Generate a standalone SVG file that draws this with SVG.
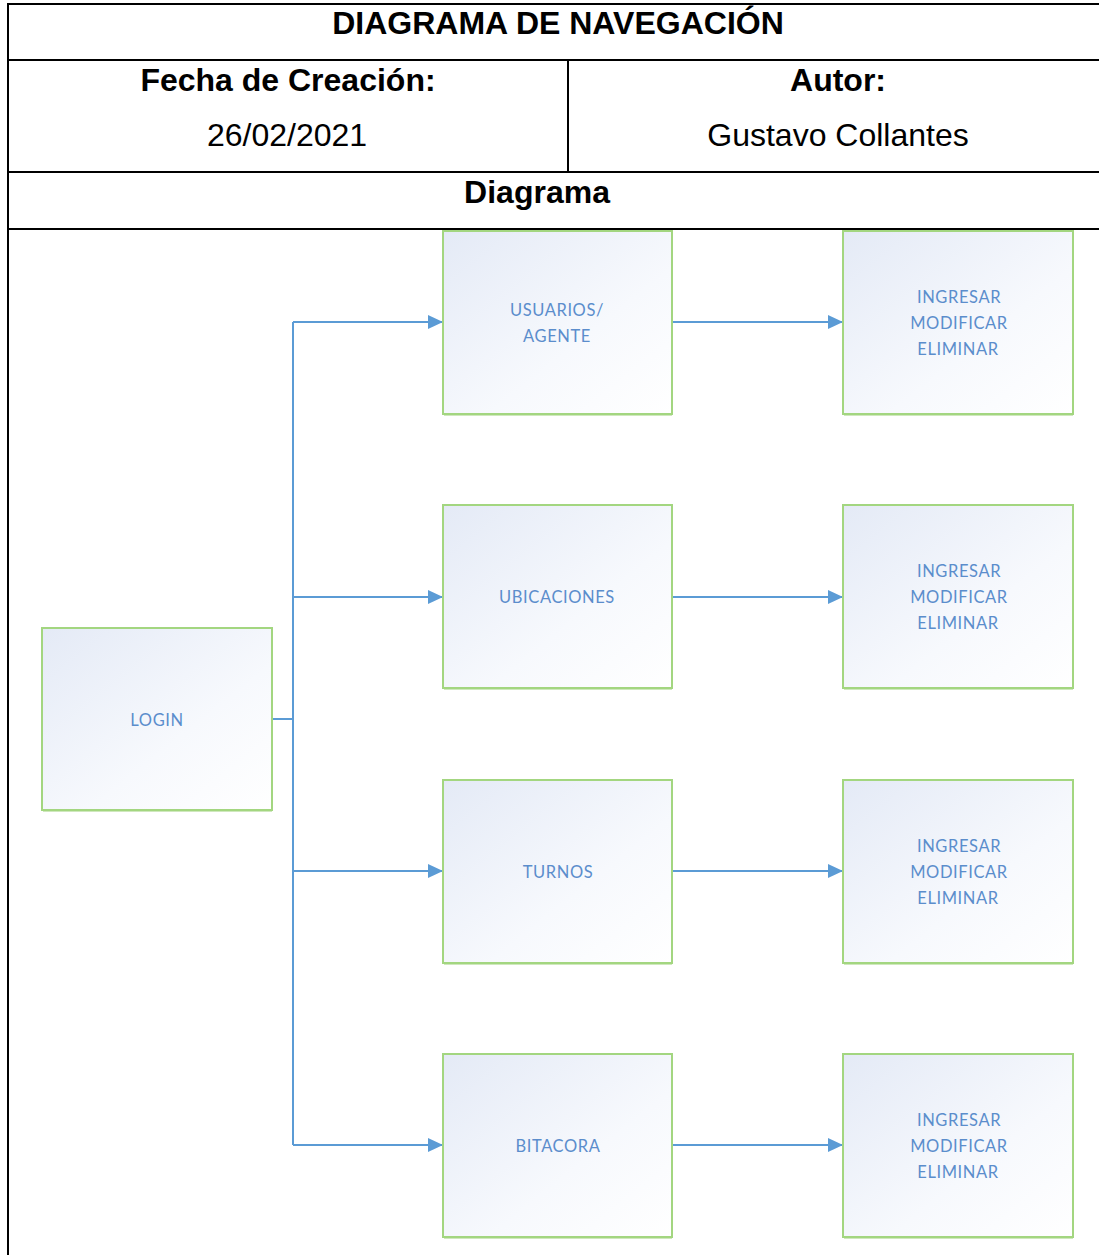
<svg xmlns="http://www.w3.org/2000/svg" width="1099" height="1255" viewBox="0 0 1099 1255">
  <style>
    .rule { stroke: #000; stroke-width: 2; fill: none; }
    .hdr { font-family: "Liberation Sans", Arial, sans-serif; font-size: 32px; fill: #000; text-anchor: middle; }
    .b { font-weight: bold; }
    .box { fill: url(#boxFill); stroke: #a3d680; stroke-width: 2; }
    .shadow { fill: none; stroke: #cfe8bd; stroke-width: 2; }
    .lbl { font-family: "Lato", "Open Sans", sans-serif; font-size: 16.5px; fill: #5b8dcc; text-anchor: middle; letter-spacing: 0.6px; }
    .conn { stroke: #5b9bd5; stroke-width: 2; fill: none; }
  </style>
  <defs>
    <linearGradient id="boxFill" x1="0" y1="0" x2="1" y2="1">
      <stop offset="0" stop-color="#e4eaf6"/>
      <stop offset="0.6" stop-color="#f7f9fd"/>
      <stop offset="1" stop-color="#ffffff"/>
    </linearGradient>
    <marker id="arrow" markerWidth="15" markerHeight="14" refX="15" refY="7" orient="auto" markerUnits="userSpaceOnUse">
      <path d="M0,0 L15,7 L0,14 Z" fill="#5b9bd5"/>
    </marker>
  </defs>

  <rect width="1099" height="1255" fill="#fff"/>

  <!-- header table -->
  <g id="table">
    <line class="rule" x1="8" y1="4" x2="1099" y2="4"/>
    <line class="rule" x1="8" y1="60" x2="1099" y2="60"/>
    <line class="rule" x1="8" y1="172" x2="1099" y2="172"/>
    <line class="rule" x1="8" y1="229" x2="1099" y2="229"/>
    <line class="rule" x1="8" y1="3" x2="8" y2="1255"/>
    <line class="rule" x1="568" y1="60" x2="568" y2="172"/>
    <text class="hdr b" x="558" y="34">DIAGRAMA DE NAVEGACIÓN</text>
    <text class="hdr b" x="288" y="91">Fecha de Creación:</text>
    <text class="hdr" x="287" y="146">26/02/2021</text>
    <text class="hdr b" x="838" y="91">Autor:</text>
    <text class="hdr" x="838" y="146">Gustavo Collantes</text>
    <text class="hdr b" x="537" y="203">Diagrama</text>
  </g>

  <!-- connectors -->
  <g id="connectors">
    <path class="conn" d="M272,719 H293"/>
    <path class="conn" d="M293,322 V1145"/>
    <path class="conn" d="M293,322 H443" marker-end="url(#arrow)"/>
    <path class="conn" d="M293,597 H443" marker-end="url(#arrow)"/>
    <path class="conn" d="M293,871 H443" marker-end="url(#arrow)"/>
    <path class="conn" d="M293,1145 H443" marker-end="url(#arrow)"/>
    <path class="conn" d="M672,322 H843" marker-end="url(#arrow)"/>
    <path class="conn" d="M672,597 H843" marker-end="url(#arrow)"/>
    <path class="conn" d="M672,871 H843" marker-end="url(#arrow)"/>
    <path class="conn" d="M672,1145 H843" marker-end="url(#arrow)"/>
  </g>

  <!-- nodes -->
  <g id="login">
    <line class="shadow" x1="43" y1="811" x2="272" y2="811"/>
    <rect class="box" x="42" y="628" width="230" height="182"/>
    <text class="lbl" x="157" y="726">LOGIN</text>
  </g>

  <g id="usuarios">
    <line class="shadow" x1="444" y1="415" x2="672" y2="415"/>
    <rect class="box" x="443" y="231" width="229" height="183"/>
    <text class="lbl" x="557" y="316">USUARIOS/</text>
    <text class="lbl" x="557" y="342">AGENTE</text>
  </g>
  <g id="ubicaciones">
    <line class="shadow" x1="444" y1="689" x2="672" y2="689"/>
    <rect class="box" x="443" y="505" width="229" height="183"/>
    <text class="lbl" x="557" y="603">UBICACIONES</text>
  </g>
  <g id="turnos">
    <line class="shadow" x1="444" y1="964" x2="672" y2="964"/>
    <rect class="box" x="443" y="780" width="229" height="183"/>
    <text class="lbl" x="558" y="878">TURNOS</text>
  </g>
  <g id="bitacora">
    <line class="shadow" x1="444" y1="1238" x2="672" y2="1238"/>
    <rect class="box" x="443" y="1054" width="229" height="183"/>
    <text class="lbl" x="558" y="1152">BITACORA</text>
  </g>

  <g id="acciones-usuarios">
    <line class="shadow" x1="844" y1="415" x2="1073" y2="415"/>
    <rect class="box" x="843" y="231" width="230" height="183"/>
    <text class="lbl" x="959" y="303">INGRESAR</text>
    <text class="lbl" x="959" y="329">MODIFICAR</text>
    <text class="lbl" x="958" y="355">ELIMINAR</text>
  </g>
  <g id="acciones-ubicaciones">
    <line class="shadow" x1="844" y1="689" x2="1073" y2="689"/>
    <rect class="box" x="843" y="505" width="230" height="183"/>
    <text class="lbl" x="959" y="577">INGRESAR</text>
    <text class="lbl" x="959" y="603">MODIFICAR</text>
    <text class="lbl" x="958" y="629">ELIMINAR</text>
  </g>
  <g id="acciones-turnos">
    <line class="shadow" x1="844" y1="964" x2="1073" y2="964"/>
    <rect class="box" x="843" y="780" width="230" height="183"/>
    <text class="lbl" x="959" y="852">INGRESAR</text>
    <text class="lbl" x="959" y="878">MODIFICAR</text>
    <text class="lbl" x="958" y="904">ELIMINAR</text>
  </g>
  <g id="acciones-bitacora">
    <line class="shadow" x1="844" y1="1238" x2="1073" y2="1238"/>
    <rect class="box" x="843" y="1054" width="230" height="183"/>
    <text class="lbl" x="959" y="1126">INGRESAR</text>
    <text class="lbl" x="959" y="1152">MODIFICAR</text>
    <text class="lbl" x="958" y="1178">ELIMINAR</text>
  </g>
</svg>
